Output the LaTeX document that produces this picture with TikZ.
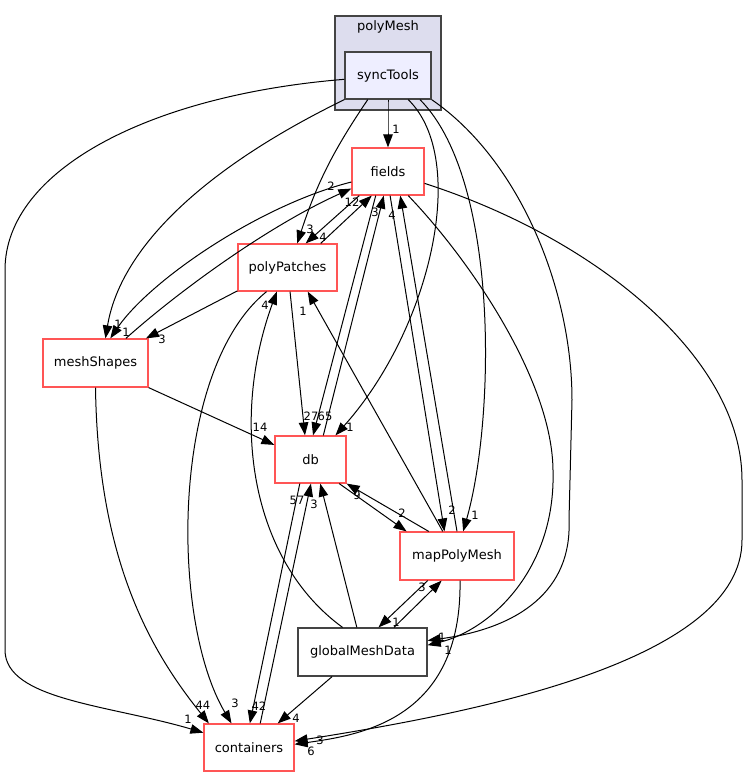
\documentclass[tikz,border=0pt]{standalone}
\usepackage{fontspec}
\setmainfont{DejaVu Sans}
\usetikzlibrary{arrows.meta}

\definecolor{dirred}{RGB}{255,85,85}
\definecolor{dirgray}{RGB}{68,68,68}
\definecolor{clusterfill}{RGB}{221,221,238}
\definecolor{focusfill}{RGB}{238,238,255}

\tikzstyle{weight} = [font=\fontsize{11.5}{13}\selectfont, inner sep=0pt]
\tikzstyle{title} = [font=\fontsize{13}{15}\selectfont, inner sep=0pt]
\tikzstyle{dirdecorate}=[shape=rectangle,draw,line width=1.2pt,inner sep=0pt,font=\fontsize{13}{15}\selectfont]
\tikzstyle{clusterdecorate}=[shape=rectangle,draw=dirgray,fill=clusterfill,line width=1.2pt,minimum width=106pt,minimum height=94pt]
\tikzstyle{arrowdecorate}=[-{Triangle[length=13pt,width=9.5pt]},line width=1pt]

\begin{document}
\begin{tikzpicture}[x=1pt,y=-1pt]
    \useasboundingbox (0,0) rectangle (747,777);
    % cluster
    \node[clusterdecorate] (polyMesh) at (388,63) {};
    \node[title] (polyMeshtitle) at (388,27) {polyMesh};
    % directories
    \foreach \nodename/\x/\y/\w/\h/\bordercolor/\fillcolor in {
      syncTools/388/75.5/86/47/dirgray/focusfill,
      fields/388/171.5/72/47/dirred/white,
      polyPatches/287.5/267.5/99/47/dirred/white,
      meshShapes/95.5/363/105/48/dirred/white,
      db/310.5/459.5/71/47/dirred/white,
      mapPolyMesh/457/556/114/48/dirred/white,
      globalMeshData/362.5/652/129/48/dirgray/white,
      containers/249/747.5/90/47/dirred/white}
    {
        \node[dirdecorate, draw=\bordercolor, fill=\fillcolor, minimum width=\w pt, minimum height=\h pt] (\nodename) at (\x,\y) {\nodename};
    };
    % straight dependencies
    \path
    \foreach \startnode/\startangle/\endnode/\endangle/\angle in {
      syncTools/south/fields/north/0, syncTools/230/polyPatches/68/-8,
      fields/220/polyPatches/53/0, polyPatches/36/fields/236/0,
      fields/243/db/84/0, db/62/fields/260/0,
      fields/275/mapPolyMesh/117/0, mapPolyMesh/90/fields/297/0,
      polyPatches/205/meshShapes/26/0, polyPatches/276/db/103/0,
      meshShapes/south east/db/158/0, db/320/mapPolyMesh/154/0,
      mapPolyMesh/139/db/south east/0, db/246/containers/88/0,
      containers/65/db/271/0, globalMeshData/103/db/292/0,
      mapPolyMesh/120/polyPatches/310/0, mapPolyMesh/220/globalMeshData/57/0,
      globalMeshData/38/mapPolyMesh/238/0, globalMeshData/219/containers/40/0}
    {
      (\startnode.\startangle) edge[arrowdecorate,bend left=\angle] (\endnode.\endangle)
    };
    % curved dependencies
    \foreach \startnode/\startangle/\endnode/\endangle/\ax/\ay/\bx/\by in {
      syncTools/south west/meshShapes/68/200/170/120/250,
      fields/196/meshShapes/59/260/205/150/280,
      meshShapes/39/fields/205/180/290/270/225,
      syncTools/310/db/44/470/160/430/330,
      syncTools/323/mapPolyMesh/76/500/180/495/420,
      polyPatches/229/containers/126/170/370/170/620,
      meshShapes/270/containers/149/98/560/150/650,
      globalMeshData/129/polyPatches/246/250/560/230/420,
      mapPolyMesh/277/containers/4/462/720/360/735}
    {
      \draw[arrowdecorate] (\startnode.\startangle) .. controls (\ax,\ay) and (\bx,\by) .. (\endnode.\endangle);
    };
    \draw[arrowdecorate] (syncTools.185) .. controls (150,95) and (5,170) .. (5,270) -- (5,650)
      .. controls (5,700) and (110,705) .. (containers.162);
    \draw[arrowdecorate] (syncTools.south east) .. controls (520,160) and (572,290) .. (572,400) -- (569,520)
      .. controls (572,590) and (520,628) .. (globalMeshData.10);
    \draw[arrowdecorate] (fields.310) .. controls (470,260) and (552,380) .. (553,470)
      .. controls (556,570) and (490,630) .. (globalMeshData.6);
    \draw[arrowdecorate] (fields.342) .. controls (600,240) and (742,360) .. (742,480) -- (742,540)
      .. controls (742,660) and (480,712) .. (containers.8);
    % weights
    \foreach \x/\y/\weight [count=\i] in {
      396/129/1, 310/229/3, 118/324/1, 350/427/1, 475/515/1, 442/637/1, 188/719/1,
      126/332/1, 448/650/1, 323/237/4, 352/202/12, 331/186/2, 311/416/27, 325/416/65,
      375/212/3, 392/215/4, 452/510/2, 320/740/3, 311/751/6, 162/339/3, 235/703/3,
      260/427/14, 203/705/44, 402/513/2, 357/495/9, 259/706/42, 297/500/57, 314/504/3,
      303/311/1, 396/622/1, 422/587/3, 265/305/4, 296/718/4}
    {
        \node[weight] (w\i) at (\x,\y) {\weight};
    };
\end{tikzpicture}
\end{document}
